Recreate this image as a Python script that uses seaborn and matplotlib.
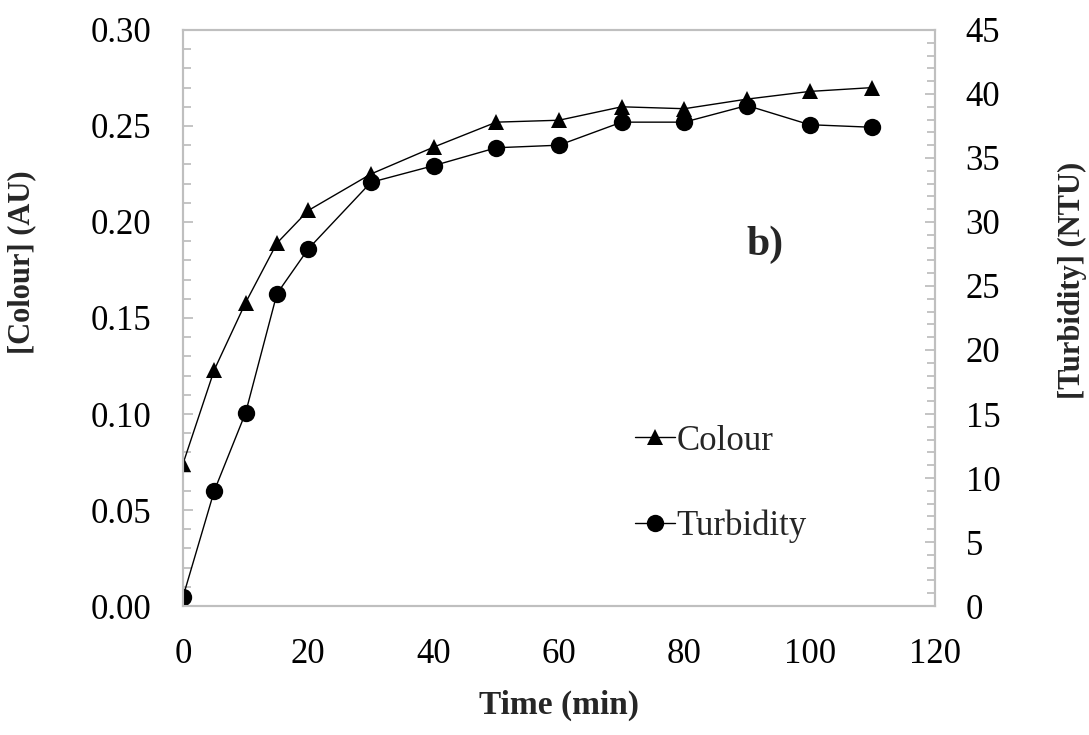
import matplotlib
matplotlib.use("Agg")
import matplotlib.pyplot as plt
from matplotlib.ticker import MultipleLocator, FormatStrFormatter
from matplotlib.lines import Line2D
import seaborn as sns
import pandas as pd

# Sampling times and measured series
time_min = [0, 5, 10, 15, 20, 30, 40, 50, 60, 70, 80, 90, 100, 110]
colour_au = [0.074, 0.123, 0.158, 0.189, 0.206, 0.225, 0.239, 0.252, 0.253,
             0.260, 0.259, 0.264, 0.268, 0.270]
turbidity_ntu = [0.7, 9.0, 15.1, 24.4, 27.9, 33.1, 34.4, 35.8, 36.0,
                 37.8, 37.8, 39.1, 37.6, 37.4]

x_ticks = [0, 20, 40, 60, 80, 100, 120]
colour_ticks = [0.00, 0.05, 0.10, 0.15, 0.20, 0.25, 0.30]
turb_ticks = [0, 5, 10, 15, 20, 25, 30, 35, 40, 45]

sns.set_style("white")
plt.rcParams["font.family"] = ["Liberation Serif", "DejaVu Serif"]

df = pd.DataFrame({"time": time_min, "colour": colour_au, "turb": turbidity_ntu})

fig = plt.figure(figsize=(10.89, 7.35), dpi=100)
ax = fig.add_axes([0.168, 0.1755, 0.6906, 0.7837])
ax2 = ax.twinx()

sns.lineplot(data=df, x="time", y="colour", ax=ax, color="black", lw=1.0,
             marker="^", markersize=12, markeredgewidth=0, markerfacecolor="black")
sns.lineplot(data=df, x="time", y="turb", ax=ax2, color="black", lw=1.0,
             marker="o", markersize=12.5, markeredgewidth=0, markerfacecolor="black")

spine_col = "#BFBFBF"
fs = 25

ax.set_xlim(0, 120)
ax.set_ylim(0, 0.30)
ax2.set_ylim(0, 45)

ax.set_xticks(x_ticks)
ax.set_yticks(colour_ticks)
ax2.set_yticks(turb_ticks)
ax.xaxis.set_minor_locator(MultipleLocator(5))
ax.yaxis.set_minor_locator(MultipleLocator(0.01))
ax2.yaxis.set_minor_locator(MultipleLocator(1))
ax.yaxis.set_major_formatter(FormatStrFormatter("%.2f"))

for a in (ax, ax2):
    for s in a.spines.values():
        s.set_color(spine_col)
        s.set_linewidth(1.5)
    a.tick_params(which="both", direction="in", color=spine_col, width=1.3,
                  labelsize=fs, labelcolor="black")
    a.tick_params(which="major", length=7)
    a.tick_params(which="minor", length=6)

ax.tick_params(axis="y", which="both", pad=23, right=False)
ax.tick_params(axis="x", which="both", pad=23, top=False)
ax2.tick_params(axis="y", which="both", pad=22, left=False)

ax.set_xlabel("Time (min)", fontsize=24, fontweight="bold")
ax.set_ylabel("[Colour] (AU)", fontsize=22, fontweight="bold")
ax2.set_ylabel("[Turbidity] (NTU)", fontsize=22, fontweight="bold", rotation=90)
ax.xaxis.set_label_coords(0.5, -0.146)
ax.yaxis.set_label_coords(-0.195, 0.597)
ax2.yaxis.set_label_coords(1.163, 0.566)

ax.text(0.774, 0.627, "b)", transform=ax.transAxes, fontsize=30,
        fontweight="bold", ha="center", va="center")

handles = [
    Line2D([], [], color="black", lw=1.0, marker="^", markersize=12,
           markeredgewidth=0, markerfacecolor="black"),
    Line2D([], [], color="black", lw=1.0, marker="o", markersize=12.5,
           markeredgewidth=0, markerfacecolor="black"),
]
ax2.legend(handles, ["Colour", "Turbidity"], loc="center left",
           bbox_to_anchor=(0.601, 0.212), frameon=False, fontsize=fs,
           handlelength=1.15, handletextpad=0.05, labelspacing=1.5,
           borderpad=0, borderaxespad=0)

ax.grid(False)
ax2.grid(False)
fig.savefig("out.png", dpi=100)
